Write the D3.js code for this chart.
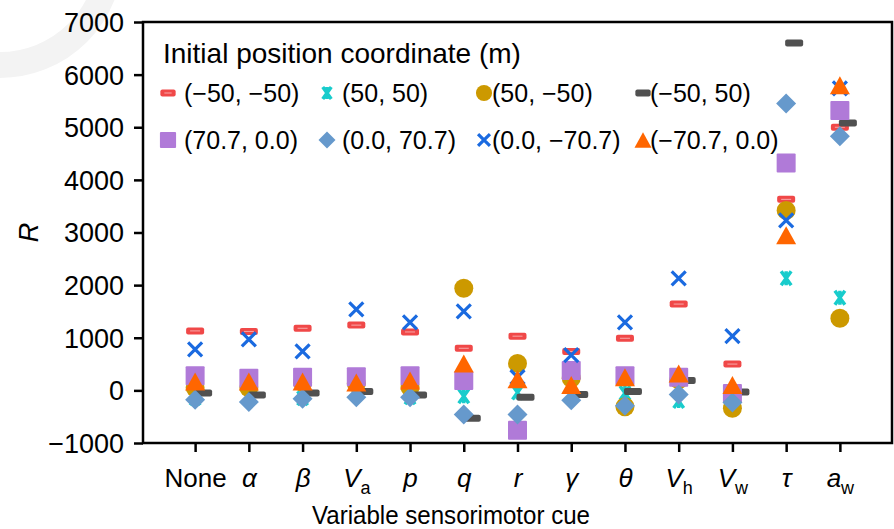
<!DOCTYPE html>
<meta charset="utf-8">
<head>
  <title>R by sensorimotor cue</title>
</head>
<style>
  body { margin: 0; background: #fff; }
  text { font-family: "Liberation Sans", Arial, sans-serif; fill: #000; }
</style>
<body>
<div id="my_dataviz"></div>
<script src="https://d3js.org/d3.v7.min.js"></script>
<script>

// categories on the x axis (name, subscript)
var cues = ["None", "α", "β", "Va", "p", "q", "r", "γ", "θ", "Vh", "Vw", "τ", "aw"];
var cueMain = ["None", "α", "β", "V", "p", "q", "r", "γ", "θ", "V", "V", "τ", "a"];
var cueSub  = ["", "", "", "a", "", "", "", "", "", "h", "w", "", "w"];

var yTicks = [-1000, 0, 1000, 2000, 3000, 4000, 5000, 6000, 7000];

// one array per initial position (values of R)
var s_m50_m50 = [1130, 1120, 1180, 1240, 1110, 800, 1030, 740, 990, 1640, 500, 3630, 5000];
var s_50_50   = [-150, -150, -150, -60, -130, -110, -40, -100, -50, -200, -150, 2130, 1760];
var s_50_m50  = [50, 50, 150, 130, 60, 1940, 510, 230, -310, 200, -340, 3420, 1370];
var s_m50_50  = [-50, -90, -50, -20, -90, -530, -130, -80, -20, 190, -30, 6600, 5080];
var s_707_0   = [280, 230, 250, 260, 280, 190, -760, 380, 280, 250, -60, 4320, 5320];
var s_0_707   = [-180, -220, -160, -130, -130, -460, -460, -190, -290, -80, -230, 5450, 4830];
var s_0_m707  = [780, 970, 740, 1540, 1290, 1500, 250, 670, 1290, 2130, 1030, 3230, 5740];
var s_m707_0  = [170, 170, 170, 150, 190, 510, 210, 100, 250, 320, 100, 2950, 5800];

var seriesNames = ["(−50, −50)", "(50, 50)", "(50, −50)", "(−50, 50)",
                   "(70.7, 0.0)", "(0.0, 70.7)", "(0.0, −70.7)", "(−70.7, 0.0)"];
var seriesValues = [s_m50_m50, s_50_50, s_50_m50, s_m50_50, s_707_0, s_0_707, s_0_m707, s_m707_0];
var seriesKinds = ["dashRed", "asterisk", "circle", "dashGray", "square", "diamond", "cross", "triangle"];
var seriesColors = ["#f04848", "#18cccc", "#cc9900", "#505050", "#b07ad8", "#6699cc", "#1a6ae0", "#ff6600"];

var W = 894, H = 529;
var margin = {top: 22, right: 2, bottom: 86, left: 143};
var width = W - margin.left - margin.right,
    height = H - margin.top - margin.bottom;

var svg = d3.select("#my_dataviz").append("svg")
  .attr("width", W).attr("height", H);

// faint decoration ring in the top-left corner
svg.append("circle")
  .attr("cx", 0).attr("cy", -45).attr("r", 110)
  .attr("fill", "none").attr("stroke", "#f3f3f3").attr("stroke-width", 26);

var g = svg.append("g")
  .attr("transform", "translate(" + margin.left + "," + margin.top + ")");

var x = d3.scalePoint().domain(cues).range([0, width]).padding(0.97);
var y = d3.scaleLinear().domain([-1000, 7000]).range([height, 0]);

// frame
g.append("rect")
  .attr("width", width).attr("height", height)
  .attr("fill", "none").attr("stroke", "#000").attr("stroke-width", 2.5);

// y axis
var yAxis = g.append("g")
  .call(d3.axisLeft(y).tickValues(yTicks).tickSize(9).tickPadding(10).tickFormat(d3.format("d")));
yAxis.select(".domain").remove();
yAxis.selectAll("line").attr("stroke-width", 2.5);
yAxis.selectAll("text").style("font-size", "27px").attr("dy", "0.35em");

// x axis
var xAxis = g.append("g")
  .attr("transform", "translate(0," + height + ")")
  .call(d3.axisBottom(x).tickSize(9).tickPadding(8).tickFormat(""));
xAxis.select(".domain").remove();
xAxis.selectAll("line").attr("stroke-width", 2.5);
xAxis.selectAll(".tick").each(function(d, i) {
  var t = d3.select(this).append("text")
    .attr("y", 44).attr("text-anchor", "middle").style("font-size", "26px");
  t.append("tspan").text(cueMain[i]).style("font-style", i === 0 ? "normal" : "italic");
  if (cueSub[i]) {
    t.append("tspan").text(cueSub[i]).attr("dy", 7).style("font-size", "18px");
  }
});

// axis titles
svg.append("text")
  .attr("transform", "translate(38," + (margin.top + y(3000)) + ") rotate(-90)")
  .attr("text-anchor", "middle").style("font-size", "27px").style("font-style", "italic")
  .text("R");
svg.append("text")
  .attr("x", 451).attr("y", 524).attr("text-anchor", "middle").style("font-size", "26px")
  .attr("textLength", 278).attr("lengthAdjust", "spacingAndGlyphs")
  .text("Variable sensorimotor cue");

// marker drawing
function drawMarker(sel, kind, color, big) {
  var k = big ? 1 : 0.85;
  if (kind === "dashRed" || kind === "dashGray") {
    var w = 18 * k, h = 7;
    sel.append("rect").attr("x", -w / 2).attr("y", -h / 2).attr("width", w).attr("height", h)
      .attr("rx", 2).attr("fill", color);
    if (kind === "dashRed") {
      sel.append("line").attr("x1", -w / 2 + 4).attr("x2", w / 2 - 4)
        .attr("stroke", "#f8a8a8").attr("stroke-width", 1);
    }
  } else if (kind === "asterisk") {
    var a = 7 * k, b = 5 * k;
    sel.append("path")
      .attr("d", "M0," + (-a) + "V" + a + "M" + (-b) + "," + (-a) + "L" + b + "," + a +
                 "M" + b + "," + (-a) + "L" + (-b) + "," + a)
      .attr("stroke", color).attr("stroke-width", 3.5).attr("fill", "none");
  } else if (kind === "circle") {
    sel.append("circle").attr("r", 9.5 * k).attr("fill", color);
  } else if (kind === "square") {
    var s = 19 * k;
    sel.append("rect").attr("x", -s / 2).attr("y", -s / 2).attr("width", s).attr("height", s)
      .attr("rx", 1).attr("fill", color);
  } else if (kind === "diamond") {
    var d = 10 * k;
    sel.append("path").attr("d", "M0," + (-d) + "L" + d + ",0L0," + d + "L" + (-d) + ",0Z")
      .attr("fill", color);
  } else if (kind === "cross") {
    var c = 7 * k;
    sel.append("path")
      .attr("d", "M" + (-c) + "," + (-c) + "L" + c + "," + c + "M" + c + "," + (-c) + "L" + (-c) + "," + c)
      .attr("stroke", color).attr("stroke-width", 3.2).attr("fill", "none");
  } else if (kind === "triangle") {
    var tw = 10 * k, th = 9 * k;
    sel.append("path").attr("d", "M0," + (-th) + "L" + tw + "," + th + "L" + (-tw) + "," + th + "Z")
      .attr("fill", color);
  }
}

// points
seriesValues.forEach(function(vals, si) {
  var kind = seriesKinds[si];
  var dx = kind === "dashGray" ? 8 : 0;
  g.append("g").selectAll("g")
    .data(vals)
    .enter().append("g")
      .attr("transform", function(d, i) { return "translate(" + (x(cues[i]) + dx) + "," + y(d) + ")"; })
      .each(function() { drawMarker(d3.select(this), kind, seriesColors[si], true); });
});

// legend
var legend = svg.append("g");
legend.append("text").attr("x", 163).attr("y", 63).style("font-size", "28px")
  .text("Initial position coordinate (m)");
var legMarkX = [168, 327, 484, 643];
var legTextX = [184, 342, 492, 650];
var legRowY = [93, 140];
seriesNames.forEach(function(name, i) {
  var col = i % 4, row = Math.floor(i / 4);
  var mk = legend.append("g")
    .attr("transform", "translate(" + legMarkX[col] + "," + legRowY[row] + ")");
  drawMarker(mk, seriesKinds[i], seriesColors[i], false);
  legend.append("text").attr("x", legTextX[col]).attr("y", legRowY[row]).attr("dy", "0.35em")
    .style("font-size", "25px").text(name);
});

</script>
</body>
</html>
